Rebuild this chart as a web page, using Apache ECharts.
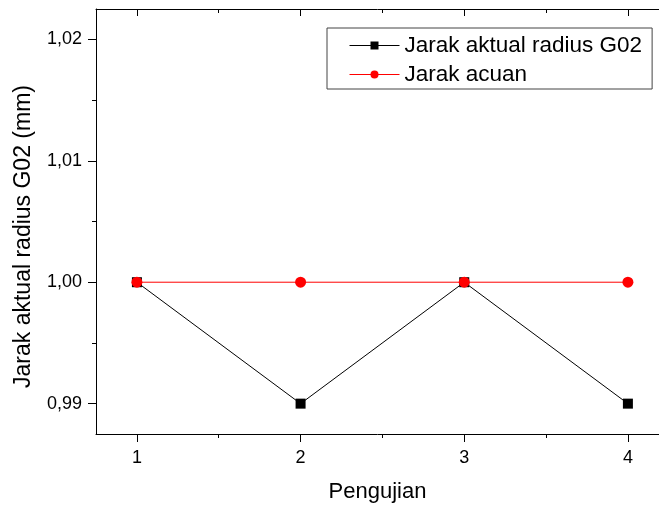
<!DOCTYPE html>
<html>
<head>
<meta charset="utf-8">
<script src="https://cdn.jsdelivr.net/npm/echarts@6/dist/echarts.min.js"></script>
<style>
  html, body { margin: 0; padding: 0; background: #fff; }
  #main { width: 659px; height: 508px; }
</style>
</head>
<body>
<div id="main"></div>
<script>
var pengujian = [1, 2, 3, 4];
var jarakAktual = [1.00, 0.99, 1.00, 0.99];
var jarakAcuan = [1.00, 1.00, 1.00, 1.00];
var xTicks = [1, 2, 3, 4];
var xMinorTicks = [1.5, 2.5, 3.5];
var yTicks = [0.99, 1.00, 1.01, 1.02];
var yMinorTicks = [0.995, 1.005, 1.015];

var font = 'Liberation Sans, Arial, sans-serif';
var chart = echarts.init(document.getElementById('main'), null, { renderer: 'canvas' });

function pairs(xs, ys) {
  return xs.map(function (x, i) { return [x, ys[i]]; });
}

// fixed ranges so the plot box matches the original (right side runs off the page)
var xMin = 0.75, xMax = 4.19;
var yMin = 0.9875, yMax = 1.0225;

function xAxisOf(pos, ticks, len, inside, showLine, showLabel) {
  return {
    type: 'value',
    position: pos,
    min: xMin,
    max: xMax,
    axisLine: { show: showLine, onZero: false, lineStyle: { color: '#000', width: 1 } },
    axisTick: { show: true, inside: inside, length: len, customValues: ticks, lineStyle: { color: '#000', width: 1 } },
    axisLabel: { show: showLabel, customValues: ticks, margin: 15, color: '#000', fontSize: 18, fontFamily: font },
    splitLine: { show: false }
  };
}

function yAxisOf(ticks, len, showLine, showLabel) {
  return {
    type: 'value',
    position: 'left',
    min: yMin,
    max: yMax,
    axisLine: { show: showLine, onZero: false, lineStyle: { color: '#000', width: 1 } },
    axisTick: { show: true, length: len, customValues: ticks, lineStyle: { color: '#000', width: 1 } },
    axisLabel: {
      show: showLabel,
      customValues: ticks,
      margin: 14,
      color: '#000',
      fontSize: 18,
      fontFamily: font,
      formatter: function (v) { return v.toFixed(2).replace('.', ','); }
    },
    splitLine: { show: false }
  };
}

var xMain = xAxisOf('bottom', xTicks, 8, false, true, true);
xMain.name = 'Pengujian';
xMain.nameLocation = 'middle';
xMain.nameGap = 47;
xMain.nameTextStyle = { color: '#000', fontSize: 22, fontFamily: font };

var yMain = yAxisOf(yTicks, 8, true, true);
yMain.name = 'Jarak aktual radius G02 (mm)';
yMain.nameLocation = 'middle';
yMain.nameGap = 61;
yMain.nameTextStyle = { color: '#000', fontSize: 23, fontFamily: font, padding: [0, 30, 0, 0] };

var option = {
  backgroundColor: '#fff',
  animation: false,
  grid: { left: 96, top: 9, right: 0, bottom: 72, containLabel: false },
  legend: {
    orient: 'vertical',
    left: 327,
    top: 28,
    padding: [6, 10, 3, 22],
    itemWidth: 50,
    itemHeight: 10,
    itemGap: 6,
    borderColor: '#444',
    borderWidth: 1,
    lineStyle: { width: 1 },
    textStyle: { color: '#000', fontSize: 22.5, fontFamily: font, lineHeight: 22, padding: [0, 0, 0, 0] },
    data: ['Jarak aktual radius G02', 'Jarak acuan']
  },
  xAxis: [
    xMain,
    xAxisOf('bottom', xMinorTicks, 4, false, false, false),
    xAxisOf('top', xTicks, 7, true, true, false),
    xAxisOf('top', xMinorTicks, 4, true, false, false)
  ],
  yAxis: [
    yMain,
    yAxisOf(yMinorTicks, 4, false, false)
  ],
  series: [
    {
      name: 'Jarak aktual radius G02',
      type: 'line',
      data: pairs(pengujian, jarakAktual),
      symbol: 'rect',
      symbolSize: 10,
      lineStyle: { color: '#000', width: 1 },
      itemStyle: { color: '#000' }
    },
    {
      name: 'Jarak acuan',
      type: 'line',
      data: pairs(pengujian, jarakAcuan),
      symbol: 'circle',
      symbolSize: 11,
      lineStyle: { color: '#ff0000', width: 1 },
      itemStyle: { color: '#ff0000' }
    }
  ]
};
chart.setOption(option);
</script>
</body>
</html>
